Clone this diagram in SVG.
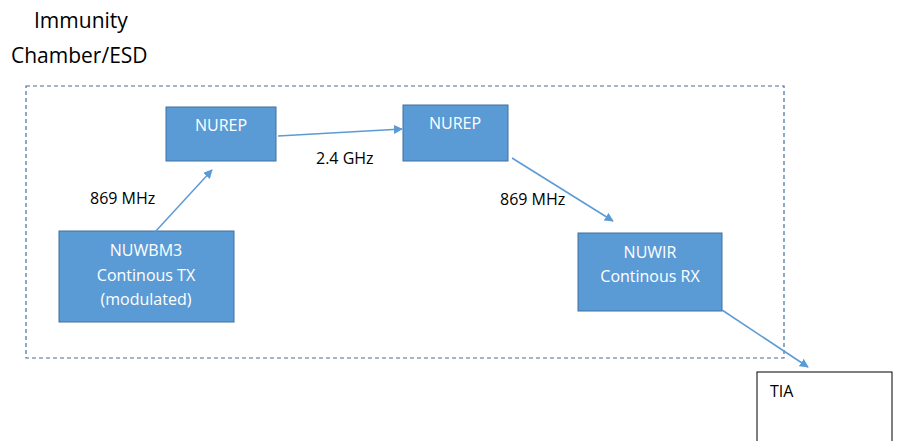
<svg xmlns="http://www.w3.org/2000/svg" width="898" height="441" viewBox="0 0 898 441">
<style>
.box{fill:#5b9bd5;stroke:#41719c;stroke-width:1}
.wt{fill:#ffffff;font-family:"Open Sans","Liberation Sans",sans-serif;font-size:16px;text-anchor:middle}
.bt{fill:#000000;font-family:"Open Sans","Liberation Sans",sans-serif;font-size:16px}
.ttl{fill:#000000;font-family:"Open Sans","Liberation Sans",sans-serif;font-size:21px}
.conn{stroke:#5b9bd5;stroke-width:1.5;fill:none;marker-end:url(#ah)}
</style>
<defs>
<marker id="ah" viewBox="0 0 10 10" refX="9" refY="5" markerWidth="9" markerHeight="9" markerUnits="userSpaceOnUse" orient="auto"><path d="M0,0 L10,5 L0,10 z" fill="#5b9bd5"/></marker>
</defs>
<rect width="898" height="441" fill="#ffffff"/>
<g id="title">
<text class="ttl" x="34" y="28">Immunity</text>
<text class="ttl" x="11" y="63">Chamber/ESD</text>
</g>
<g id="chamber">
<rect x="26" y="86" width="758" height="272" fill="none" stroke="#41719c" stroke-width="1.2" stroke-dasharray="4,3"/>
</g>
<g id="nurep1">
<rect class="box" x="166" y="107" width="110" height="54"/>
<text class="wt" x="221" y="131">NUREP</text>
</g>
<g id="nurep2">
<rect class="box" x="403" y="105" width="105" height="56"/>
<text class="wt" x="455" y="129">NUREP</text>
</g>
<g id="nuwbm3">
<rect class="box" x="59" y="231" width="175" height="91"/>
<text class="wt" x="146" y="256">NUWBM3</text>
<text class="wt" x="146" y="281">Continous TX</text>
<text class="wt" x="146" y="305">(modulated)</text>
</g>
<g id="nuwir">
<rect class="box" x="578" y="233" width="144" height="78"/>
<text class="wt" x="650" y="258">NUWIR</text>
<text class="wt" x="650" y="282">Continous RX</text>
</g>
<g id="tia">
<rect x="757" y="372" width="135" height="80" fill="#ffffff" stroke="#000000" stroke-width="1"/>
<text class="bt" x="770" y="397">TIA</text>
</g>
<g id="connectors">
<line class="conn" x1="155" y1="232" x2="212" y2="170"/>
<line class="conn" x1="278" y1="136" x2="402" y2="129"/>
<line class="conn" x1="512" y1="158" x2="613" y2="221"/>
<line class="conn" x1="722" y1="310" x2="808" y2="367"/>
</g>
<g id="labels">
<text class="bt" x="90" y="204">869 MHz</text>
<text class="bt" x="316" y="164">2.4 GHz</text>
<text class="bt" x="500" y="205">869 MHz</text>
</g>
</svg>
